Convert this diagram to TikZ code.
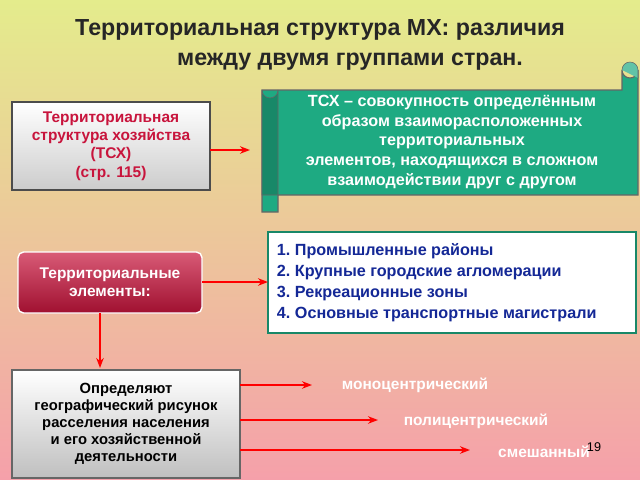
\documentclass[tikz,border=0pt]{standalone}
\usepackage{fontspec}
\setmainfont{Liberation Sans}
\usetikzlibrary{arrows.meta}
\definecolor{scroll}{RGB}{30,170,130}
\definecolor{crim}{RGB}{200,20,60}
\definecolor{listblue}{RGB}{20,40,150}
\tikzset{
  redarrow/.style={draw=red, line width=1.2pt, -{Stealth[length=2.5mm]}},
  txt/.style={font=\bfseries\fontsize{11}{13}\selectfont, align=center}
}
\begin{document}
\begin{tikzpicture}[x=0.025cm,y=-0.025cm]

\shade[top color={rgb,255:red,228;green,236;blue,140}, bottom color={rgb,255:red,245;green,160;blue,170}] (0,0) rectangle (640,480);
\useasboundingbox (0,0) rectangle (640,480);

% title
\node[font=\bfseries\fontsize{16.5}{19}\selectfont, text=black!85] (title1) at (320,30) {Территориальная структура МХ: различия};
\node[font=\bfseries\fontsize{16.5}{19}\selectfont, text=black!85] (title2) at (350,62) {между двумя группами стран.};

% left boxes
\draw[draw=black!70, line width=1.5pt, top color=white, bottom color=black!20] (12,102) rectangle (210,190);
\node[txt, text=crim] (tsx) at (111,146) {Территориальная\\структура хозяйства\\(ТСХ)\\(стр. 115)};

\draw[draw=white, line width=1pt, rounded corners=4pt, top color=crim!70, bottom color=crim!80!black] (18,252) rectangle (202,313);
\node[txt, text=white] (elem) at (110,282) {Территориальные\\элементы:};

\draw[draw=black!60, line width=1.5pt, top color=white, bottom color=black!25] (12,370) rectangle (240,478);
\node[txt, font=\bfseries\fontsize{10.5}{12}\selectfont] (def) at (126,424) {Определяют\\географический рисунок\\расселения населения\\и его хозяйственной\\деятельности};

% scroll
\draw[draw=black!60, fill=scroll, line width=0.8pt] (262,90) -- (622,90) -- (622,70) arc (180:0:8) -- (638,195) -- (278,195) -- (278,212) -- (262,212) -- cycle;
\draw[draw=black!60, fill=scroll!80!black] (262,90) arc (180:0:8) -- (278,195) -- (262,195) -- cycle;
\draw[draw=black!60, fill=scroll!70!white] (622,70) arc (180:360:8) -- (638,78);
\node[txt, text=white, font=\bfseries\fontsize{11.5}{14}\selectfont] (scrolltxt) at (452,142) {ТСХ – совокупность определённым\\образом взаиморасположенных\\территориальных\\элементов, находящихся в сложном\\взаимодействии друг с другом};

% list
\draw[draw=scroll!80!black, line width=1.2pt, fill=white] (268,232) rectangle (636,333);
\node[font=\bfseries\fontsize{11.5}{15}\selectfont, text=listblue, align=left, anchor=west] (list) at (272,283) {1.\ Промышленные районы\\2.\ Крупные городские агломерации\\3.\ Рекреационные зоны\\4.\ Основные транспортные магистрали};

% arrows
\coordinate (a1) at (250,150);
\coordinate (a2) at (268,282);
\coordinate (a3) at (100,368);
\coordinate (m1) at (312,385);
\coordinate (m2) at (378,420);
\coordinate (m3) at (470,450);
\draw[redarrow] (210,150) -- (a1);
\draw[redarrow] (202,282) -- (a2);
\draw[redarrow] (100,313) -- (a3);
\draw[redarrow] (240,385) -- (m1);
\draw[redarrow] (240,420) -- (m2);
\draw[redarrow] (240,450) -- (m3);

\node[txt, text=white] (mono) at (415,385) {моноцентрический};
\node[txt, text=white] (poly) at (476,421) {полицентрический};
\node[txt, text=white] (mix) at (544,452) {смешанный};
\node[font=\fontsize{9}{10}\selectfont] (num) at (594,447) {19};

\end{tikzpicture}
\end{document}
